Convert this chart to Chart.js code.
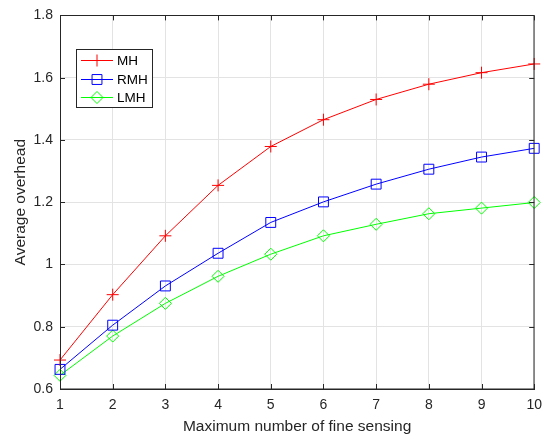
<!DOCTYPE html>
<html>
<head>
<meta charset="utf-8">
<script src="https://cdn.jsdelivr.net/npm/chart.js@4.4.1/dist/chart.umd.min.js"></script>
<style>
html,body{margin:0;padding:0;background:#fff;}
#wrap{width:550px;height:437px;position:relative;}
</style>
</head>
<body>
<div id="wrap"><canvas id="c" width="550" height="437"></canvas></div>
<script>
const categories = ['1','2','3','4','5','6','7','8','9','10'];
const seriesNames = ['MH','RMH','LMH'];
const mhValues  = [0.693, 0.903, 1.092, 1.254, 1.379, 1.465, 1.530, 1.579, 1.616, 1.644];
const rmhValues = [0.663, 0.805, 0.931, 1.036, 1.135, 1.201, 1.258, 1.306, 1.345, 1.373];
const lmhValues = [0.644, 0.770, 0.875, 0.962, 1.033, 1.092, 1.129, 1.163, 1.181, 1.199];
const yTickLabels = ['0.6','0.8','1','1.2','1.4','1.6','1.8'];

const FONT = '"Liberation Sans", Arial, Helvetica, sans-serif';
const AXIS = '#262626';

const boxPlugin = {
  id: 'matlabBox',
  afterDatasetsDraw(chart) {
    const {ctx, chartArea: a, scales} = chart;
    ctx.save();
    ctx.strokeStyle = AXIS;
    ctx.lineWidth = 1;
    ctx.beginPath();
    ctx.rect(Math.round(a.left)+0.5, Math.round(a.top)+0.5, Math.round(a.right-a.left)-1+0.5, Math.round(a.bottom-a.top)-1+0.5);
    ctx.stroke();
    const L = 5;
    ctx.beginPath();
    scales.x.ticks.forEach((t, i) => {
      const px = Math.round(scales.x.getPixelForTick(i)) + 0.5;
      ctx.moveTo(px, a.bottom); ctx.lineTo(px, a.bottom - L);
      ctx.moveTo(px, a.top); ctx.lineTo(px, a.top + L);
    });
    scales.y.ticks.forEach((t, i) => {
      const py = Math.round(scales.y.getPixelForTick(i)) + 0.5;
      ctx.moveTo(a.left, py); ctx.lineTo(a.left + L, py);
      ctx.moveTo(a.right, py); ctx.lineTo(a.right - L, py);
    });
    ctx.stroke();
    ctx.restore();
  },
  afterDraw(chart) {
    const {ctx, chartArea: a} = chart;
    const bx = a.left + 16, by = a.top + 34, bw = 76, bh = 58;
    ctx.save();
    ctx.fillStyle = '#fff';
    ctx.fillRect(bx, by, bw, bh);
    ctx.strokeStyle = AXIS;
    ctx.lineWidth = 1;
    ctx.strokeRect(Math.round(bx)+0.5, Math.round(by)+0.5, bw, bh);
    chart.data.datasets.forEach((ds, i) => {
      const y = Math.round(by + 11 + i * 18.5) + 0.5;
      const x0 = bx + 5, x1 = bx + 37;
      ctx.strokeStyle = ds.borderColor;
      ctx.lineWidth = 1;
      ctx.beginPath(); ctx.moveTo(x0, y); ctx.lineTo(x1, y); ctx.stroke();
      ctx.fillStyle = 'rgba(0,0,0,0)';
      ctx.strokeStyle = ds.borderColor;
      Chart.helpers.drawPoint(ctx, {pointStyle: ds.pointStyle, rotation: 0, borderWidth: 1, radius: ds.pointRadius}, (x0 + x1) / 2, y);
      ctx.fillStyle = '#000';
      ctx.font = '13.5px ' + FONT;
      ctx.textBaseline = 'middle';
      ctx.textAlign = 'left';
      ctx.fillText(ds.label, x1 + 4, y + 1);
    });
    ctx.restore();
  }
};

function mk(label, data, color, style, r) {
  return {
    label, data,
    borderColor: color, backgroundColor: 'rgba(0,0,0,0)',
    pointBorderColor: color, pointBackgroundColor: 'rgba(0,0,0,0)',
    borderWidth: 1, pointBorderWidth: 1,
    pointStyle: style, pointRadius: r, pointHoverRadius: r,
    tension: 0, fill: false, clip: false
  };
}

new Chart(document.getElementById('c'), {
  type: 'line',
  data: {
    labels: categories,
    datasets: [
      mk(seriesNames[0], mhValues, '#ff0000', 'cross', 6),
      mk(seriesNames[1], rmhValues, '#0000ff', 'rect', 7),
      mk(seriesNames[2], lmhValues, '#00ff00', 'rectRot', 6)
    ]
  },
  options: {
    responsive: false,
    animation: false,
    devicePixelRatio: 1,
    layout: {padding: {left: 0, right: 13, top: 13, bottom: 0}},
    plugins: {legend: {display: false}, tooltip: {enabled: false}},
    scales: {
      x: {
        type: 'category',
        offset: false,
        grid: {color: '#e3e3e3', lineWidth: 1, drawTicks: false},
        border: {display: true, color: AXIS},
        ticks: {color: AXIS, font: {family: FONT, size: 14}, padding: 8, maxRotation: 0, autoSkip: false},
        title: {display: true, text: 'Maximum number of fine sensing', color: AXIS, font: {family: FONT, size: 15.5}, padding: {top: 0, bottom: 1}},
        afterFit(s) { s.height = 48; }
      },
      y: {
        min: 0.6, max: 1.8,
        grid: {color: '#e3e3e3', lineWidth: 1, drawTicks: false},
        border: {display: true, color: AXIS},
        ticks: {stepSize: 0.2, color: AXIS, font: {family: FONT, size: 14}, padding: 7,
          callback: (v, i) => yTickLabels[i]},
        title: {display: true, text: 'Average overhead', color: AXIS, font: {family: FONT, size: 15.5}, padding: {top: 11, bottom: 0}},
        afterFit(s) { s.width = 60; }
      }
    }
  },
  plugins: [boxPlugin]
});
</script>
</body>
</html>
